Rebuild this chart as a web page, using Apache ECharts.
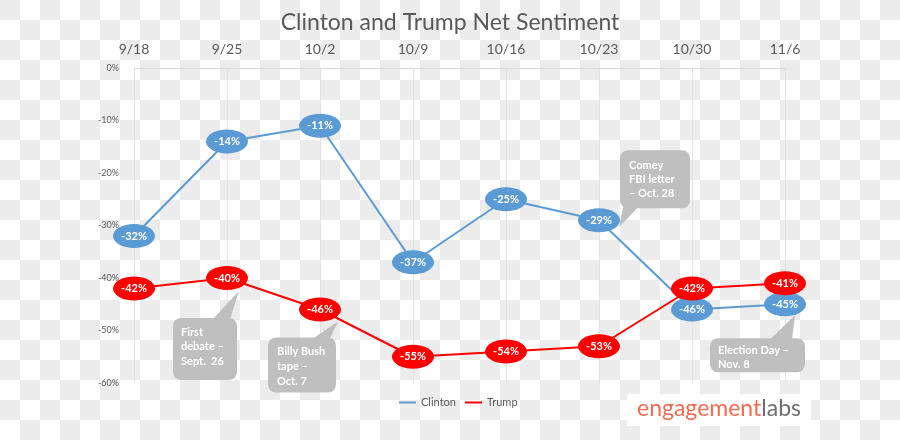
<!DOCTYPE html>
<html>
<head>
<meta charset="utf-8">
<script src="https://cdn.jsdelivr.net/npm/echarts@6/dist/echarts.min.js"></script>
<style>
  html, body { margin: 0; padding: 0; }
  body {
    width: 900px; height: 440px; overflow: hidden;
    background: repeating-conic-gradient(#ffffff 0 25%, #ececec 0 50%) 0 0 / 40px 40px;
  }
  #chart { width: 900px; height: 440px; }
</style>
</head>
<body>
<div id="chart"></div>
<script>
// ---- data ----
const categories = ['9/18', '9/25', '10/2', '10/9', '10/16', '10/23', '10/30', '11/6'];
const clintonValues = [-32, -14, -11, -37, -25, -29, -46, -45];
const trumpValues = [-42, -40, -46, -55, -54, -53, -42, -41];
const yTickValues = [0, -10, -20, -30, -40, -50, -60];
const calloutTexts = ['First\ndebate \u2013\nSept.  26', 'Billy Bush\ntape \u2013\nOct. 7', 'Comey\nFBI letter\n\u2013 Oct. 28', 'Election Day \u2013\nNov. 8'];
const calloutSeries = ['Trump', 'Trump', 'Clinton', 'Clinton'];
const calloutCategories = ['9/25', '10/2', '10/23', '11/6'];

// ---- layout of callouts relative to their anchor point (pixels) ----
const calloutLayout = [
  { box: [-54, 40, 64, 62], tail: [[-14, 41], [3, 41], [12, 13]], text: [8, 7], lh: 14.5 },
  { box: [-52, 28, 68, 55], tail: [[-7, 29], [10, 29], [18, 12]], text: [9, 6], lh: 15 },
  { box: [21, -70, 70, 58], tail: [[24, -13], [39, -13], [20, 7]], text: [9, 8], lh: 14 },
  { box: [-75, 34, 95, 34], tail: [[-15, 35], [7, 35], [10, 11]], text: [8, 5], lh: 14 }
];

const FONT = 'Lato, "Open Sans", sans-serif';
const ellipse = 'path://M0,12 A21,12 0 1,1 42,12 A21,12 0 1,1 0,12 Z';

const chart = echarts.init(document.getElementById('chart'), null, { renderer: 'canvas' });

function seriesDef(name, data, color) {
  return {
    name: name,
    type: 'line',
    data: data,
    symbol: ellipse,
    symbolSize: [42, 24],
    symbolKeepAspect: false,
    lineStyle: { color: color, width: 2 },
    itemStyle: { color: color },
    label: {
      show: true,
      position: 'inside',
      formatter: '{c}%',
      color: '#ffffff',
      fontFamily: FONT,
      fontSize: 11,
      fontWeight: 'bold'
    },
    emphasis: { disabled: true },
    z: 3
  };
}

const option = {
  backgroundColor: 'transparent',
  animation: false,
  title: {
    text: 'Clinton and Trump Net Sentiment',
    left: 'center',
    top: 6,
    textStyle: { fontFamily: FONT, fontSize: 23, fontWeight: 'normal', color: '#595959' }
  },
  legend: {
    data: ['Clinton', 'Trump'],
    left: 394,
    top: 392,
    icon: 'rect',
    itemWidth: 17,
    itemHeight: 2,
    itemGap: 9,
    textStyle: { fontFamily: FONT, fontSize: 11, color: '#595959' }
  },
  grid: { left: 134, right: 115, top: 68, bottom: 57, containLabel: false },
  xAxis: {
    type: 'category',
    data: categories,
    position: 'top',
    boundaryGap: false,
    axisLine: { show: true, lineStyle: { color: '#d9d9d9', width: 1 } },
    axisTick: { show: false },
    axisLabel: { fontFamily: FONT, fontSize: 14, color: '#595959', margin: 12 },
    splitLine: { show: true, lineStyle: { color: '#e3e3e3', width: 1 } }
  },
  yAxis: {
    type: 'value',
    min: -60,
    max: 0,
    interval: 10,
    axisLine: { show: false },
    axisTick: { show: false },
    splitLine: { show: false },
    axisLabel: {
      fontFamily: FONT, fontSize: 9, color: '#595959', margin: 15,
      formatter: function (v) { return yTickValues.indexOf(v) >= 0 ? v + '%' : ''; }
    }
  },
  series: [
    seriesDef('Clinton', clintonValues, '#5b9bd5'),
    seriesDef('Trump', trumpValues, '#ff0000')
  ]
};

chart.setOption(option);

// ---- callouts, anchored through the chart's own scales ----
const graphics = [];
calloutTexts.forEach(function (txt, i) {
  const ci = categories.indexOf(calloutCategories[i]);
  const vals = calloutSeries[i] === 'Clinton' ? clintonValues : trumpValues;
  const p = chart.convertToPixel({ xAxisIndex: 0, yAxisIndex: 0 }, [ci, vals[ci]]);
  const L = calloutLayout[i];
  graphics.push({
    type: 'polygon',
    z: 1,
    silent: true,
    shape: { points: L.tail.map(function (t) { return [p[0] + t[0], p[1] + t[1]]; }) },
    style: { fill: '#bfbfbf' }
  });
  graphics.push({
    type: 'rect',
    z: 1,
    silent: true,
    shape: { x: p[0] + L.box[0], y: p[1] + L.box[1], width: L.box[2], height: L.box[3], r: 8 },
    style: { fill: '#bfbfbf' }
  });
  graphics.push({
    type: 'text',
    z: 1,
    silent: true,
    x: p[0] + L.box[0] + L.text[0],
    y: p[1] + L.box[1] + L.text[1],
    style: {
      text: txt,
      fill: '#ffffff',
      font: 'bold 11px ' + FONT,
      lineHeight: L.lh,
      verticalAlign: 'top',
      align: 'left'
    }
  });
});

// logo
graphics.push({
  type: 'rect', z: 0, silent: true,
  shape: { x: 627, y: 394, width: 184, height: 32 },
  style: { fill: '#ffffff' }
});
graphics.push({
  type: 'text', z: 1, silent: true,
  x: 637, y: 409,
  style: {
    text: '{e|engagement}{l|labs}',
    verticalAlign: 'middle',
    font: '23px ' + FONT,
    rich: {
      e: { fill: '#f26b50', font: '23px ' + FONT },
      l: { fill: '#6d6e70', font: '23px ' + FONT }
    }
  }
});

chart.setOption({ graphic: graphics });
</script>
</body>
</html>
